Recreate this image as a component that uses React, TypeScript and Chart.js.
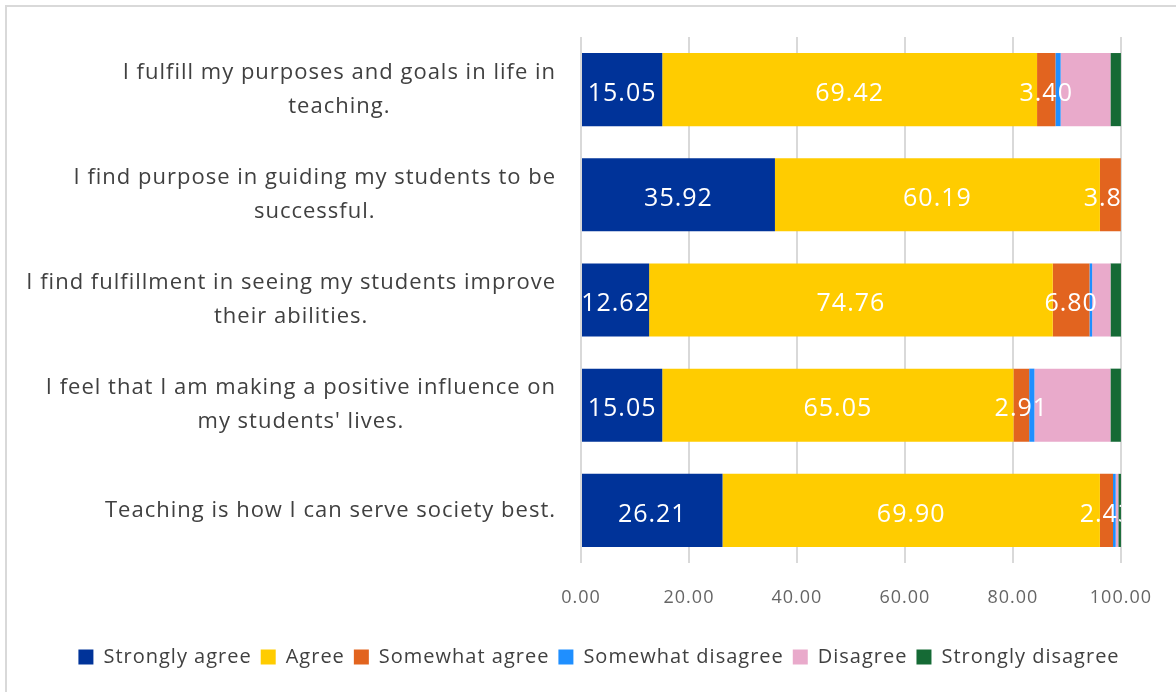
import React, { useEffect, useRef } from "react";
import { Chart, registerables } from "chart.js";

Chart.register(...registerables);

const categories: string[][] = [
  ["I fulfill my purposes and goals in life in", "teaching."],
  ["I find purpose in guiding my students to be", "successful."],
  ["I find fulfillment in seeing my students improve", "their abilities."],
  ["I feel that I am making a positive influence on", "my students' lives."],
  ["Teaching is how I can serve society best."],
];

const seriesNames = [
  "Strongly agree",
  "Agree",
  "Somewhat agree",
  "Somewhat disagree",
  "Disagree",
  "Strongly disagree",
];

const stronglyAgree = [15.05, 35.92, 12.62, 15.05, 26.21];
const agree = [69.42, 60.19, 74.76, 65.05, 69.9];
const somewhatAgree = [3.4, 3.88, 6.8, 2.91, 2.43];
const somewhatDisagree = [0.97, 0, 0.49, 0.97, 0.49];
const disagree = [9.22, 0, 3.4, 14.08, 0.49];
const stronglyDisagree = [1.94, 0, 1.94, 1.94, 0.49];

const xTicks = [0, 20, 40, 60, 80, 100];

const colors = ["#003399", "#FFCC00", "#E2641F", "#1F8FFF", "#E9AACB", "#156A35"];
const labeledSeries = [0, 1, 2];

const FONT = "'Open Sans', sans-serif";
const SPACING = "1px";

const spacingPlugin = {
  id: "letterSpacing",
  beforeUpdate(chart: any) {
    chart.ctx.letterSpacing = SPACING;
  },
  beforeDraw(chart: any) {
    chart.ctx.letterSpacing = SPACING;
  },
};

const categoryLabelPlugin = {
  id: "categoryLabels",
  afterDraw(chart: any) {
    const ctx = chart.ctx;
    const yScale = chart.scales.y;
    const right = chart.chartArea.left - 25;
    ctx.save();
    ctx.letterSpacing = SPACING;
    ctx.font = `22px ${FONT}`;
    ctx.fillStyle = "#404040";
    ctx.textAlign = "center";
    ctx.textBaseline = "middle";
    const lineH = 34;
    categories.forEach((lines, i) => {
      const yc = yScale.getPixelForValue(i);
      const w = Math.max(...lines.map((l) => ctx.measureText(l).width));
      const cx = right - w / 2;
      const y0 = yc - ((lines.length - 1) * lineH) / 2;
      lines.forEach((l, j) => ctx.fillText(l, cx, y0 + j * lineH));
    });
    ctx.restore();
  },
};

const valueLabelPlugin = {
  id: "valueLabels",
  afterDatasetsDraw(chart: any) {
    const ctx = chart.ctx;
    const area = chart.chartArea;
    ctx.save();
    ctx.letterSpacing = SPACING;
    ctx.beginPath();
    ctx.rect(area.left, area.top, area.right - area.left, area.bottom - area.top);
    ctx.clip();
    ctx.font = `25px ${FONT}`;
    ctx.fillStyle = "#ffffff";
    ctx.textAlign = "center";
    ctx.textBaseline = "middle";
    labeledSeries.forEach((di) => {
      const meta = chart.getDatasetMeta(di);
      const data = chart.data.datasets[di].data as number[];
      meta.data.forEach((bar: any, i: number) => {
        const v = data[i];
        if (!v) return;
        const { x, base, y } = bar.getProps(["x", "base", "y"], true);
        ctx.fillText(v.toFixed(2), (x + base) / 2, y + 4);
      });
    });
    ctx.restore();
  },
};

export default function App() {
  const ref = useRef<HTMLCanvasElement>(null);
  useEffect(() => {
    if (!ref.current) return;
    const values = [stronglyAgree, agree, somewhatAgree, somewhatDisagree, disagree, stronglyDisagree];
    const chart = new Chart(ref.current, {
      type: "bar",
      data: {
        labels: categories.map((c) => c.join(" ")),
        datasets: seriesNames.map((name, i) => ({
          label: name,
          data: values[i],
          backgroundColor: colors[i],
          borderWidth: 0,
          barPercentage: 1,
          categoryPercentage: 0.695,
        })),
      },
      options: {
        indexAxis: "y",
        responsive: false,
        animation: false,
        layout: { padding: { left: 39, right: 17, top: 37, bottom: 15 } },
        scales: {
          x: {
            stacked: true,
            min: 0,
            max: 100,
            afterBuildTicks: (scale: any) => {
              scale.ticks = xTicks.map((v) => ({ value: v }));
            },
            afterFit: (scale: any) => {
              scale.height = 75;
            },
            ticks: {
              callback: (v: any) => Number(v).toFixed(2),
              font: { family: FONT, size: 18 },
              color: "#666666",
              padding: 24,
              maxRotation: 0,
            },
            grid: { color: "#d9d9d9", lineWidth: 2, drawTicks: false },
            border: { display: false },
          },
          y: {
            stacked: true,
            ticks: { display: false },
            afterFit: (scale: any) => {
              scale.width = 581 - 39;
            },
            grid: { display: false },
            border: { display: false },
          },
        },
        plugins: {
          legend: {
            position: "bottom",
            labels: {
              boxWidth: 15,
              boxHeight: 15,
              padding: 9,
              color: "#404040",
              font: { family: FONT, size: 20 },
            },
          },
          tooltip: { enabled: false },
        },
      },
      plugins: [spacingPlugin, valueLabelPlugin, categoryLabelPlugin],
    });
    return () => chart.destroy();
  }, []);
  return (
    <div style={{ position: "fixed", left: 0, top: 0, width: 1176, height: 692, background: "#fff", overflow: "hidden" }}>
      <div
        style={{
          position: "absolute",
          left: 5,
          top: 5,
          width: 1300,
          height: 1000,
          border: "2px solid #d9d9d9",
          boxSizing: "border-box",
        }}
      />
      <canvas ref={ref} width={1176} height={692} style={{ position: "absolute", left: 0, top: 0, width: 1176, height: 692 }} />
    </div>
  );
}
